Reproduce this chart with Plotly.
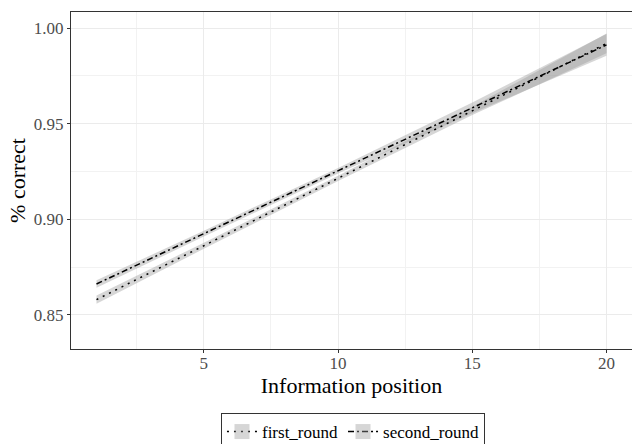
import plotly.graph_objects as go

positions = [1, 5, 10, 15, 20]

first_fit = [0.858, 0.8862, 0.9214, 0.9567, 0.9920]
first_lo = [0.8558, 0.8846, 0.9200, 0.9545, 0.9868]
first_hi = [0.8602, 0.8878, 0.9228, 0.9589, 0.9972]

second_fit = [0.8662, 0.8925, 0.9254, 0.9583, 0.9912]
second_lo = [0.8642, 0.8910, 0.9239, 0.9555, 0.9855]
second_hi = [0.8682, 0.8940, 0.9269, 0.9611, 0.9969]

series = [
    ("first_round", first_fit, first_lo, first_hi, "2px,5px"),
    ("second_round", second_fit, second_lo, second_hi, "6px,3px,2px,3px"),
]

ribbon = "rgba(153,153,153,0.4)"
fig = go.Figure()
for name, fit, lo, hi, dash in series:
    fig.add_trace(go.Scatter(x=positions, y=hi, mode="lines", line=dict(width=0),
                             showlegend=False, hoverinfo="skip"))
    fig.add_trace(go.Scatter(x=positions, y=lo, mode="lines", line=dict(width=0),
                             fill="tonexty", fillcolor=ribbon,
                             showlegend=False, hoverinfo="skip"))
for name, fit, lo, hi, dash in series:
    fig.add_trace(go.Scatter(x=positions, y=fit, mode="lines", name=name,
                             line=dict(color="black", width=1.5, dash=dash),
                             showlegend=False))
    # legend key: grey square with the line style
    fig.add_trace(go.Scatter(x=[None], y=[None], mode="lines+markers", name=name,
                             line=dict(color="black", width=1.5, dash=dash),
                             marker=dict(symbol="square", size=15, color=ribbon,
                                         line=dict(width=0))))

font = "Liberation Serif"
fig.update_layout(
    width=632, height=444,
    margin=dict(l=71, r=0, t=12, b=95),
    paper_bgcolor="white", plot_bgcolor="white",
    font=dict(family=font, color="black"),
    showlegend=True,
    legend=dict(orientation="h", xref="container", yref="container",
                x=0.5585, xanchor="center", y=0.0698, yanchor="top",
                bordercolor="#333333", borderwidth=1, bgcolor="white",
                font=dict(family=font, size=17, color="black"),
                itemwidth=30, traceorder="normal"),
    xaxis=dict(range=[0.05, 20.95], tickvals=[5, 10, 15, 20],
               showgrid=True, gridcolor="#ebebeb", gridwidth=1,
               minor=dict(tickvals=[2.5, 7.5, 12.5, 17.5], showgrid=True, gridcolor="#f2f2f2", gridwidth=1),
               showline=True, linecolor="#333333", linewidth=1, mirror=True,
               ticks="outside", ticklen=3, tickcolor="#333333",
               ticklabelstandoff=-4,
               tickfont=dict(family=font, size=17, color="#4d4d4d"),
               zeroline=False,
               title=dict(text="Information position", font=dict(family=font, size=22, color="black"), standoff=4)),
    yaxis=dict(range=[0.8322, 1.0084], tickvals=[0.85, 0.90, 0.95, 1.00],
               ticktext=["0.85", "0.90", "0.95", "1.00"],
               showgrid=True, gridcolor="#ebebeb", gridwidth=1,
               minor=dict(tickvals=[0.875, 0.925, 0.975], showgrid=True, gridcolor="#f2f2f2", gridwidth=1),
               showline=True, linecolor="#333333", linewidth=1, mirror=True,
               ticks="outside", ticklen=3, tickcolor="#333333",
               tickfont=dict(family=font, size=17, color="#4d4d4d"),
               zeroline=False,
               title=dict(text="% correct", font=dict(family=font, size=22, color="black"), standoff=2)),
)

fig.write_html("out.html")
